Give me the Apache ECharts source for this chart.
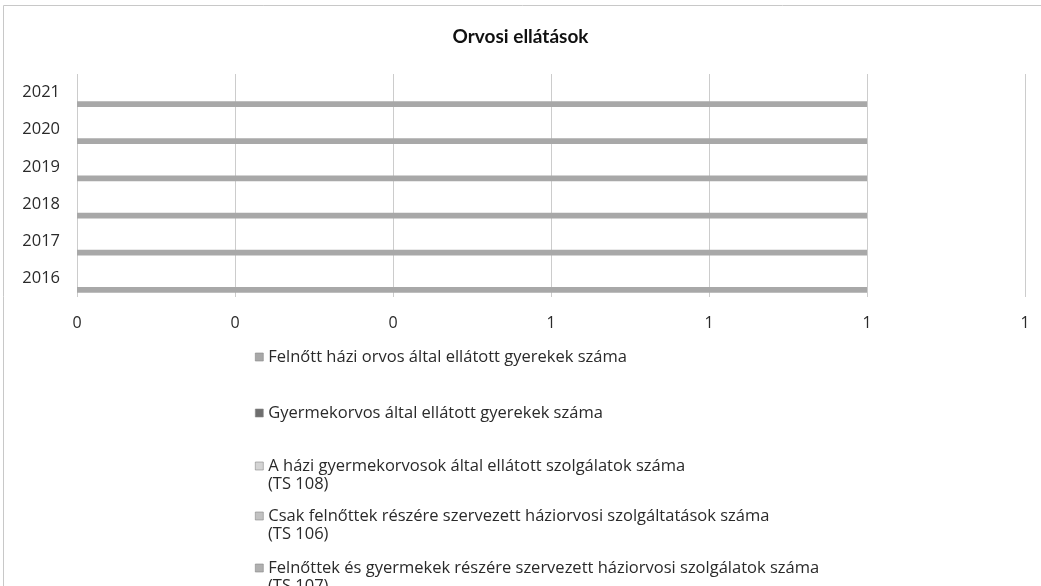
<!DOCTYPE html>
<html>
<head>
<meta charset="utf-8">
<title>Orvosi ellátások</title>
<script src="https://cdn.jsdelivr.net/npm/echarts@6/dist/echarts.min.js"></script>
<style>
  html, body { margin: 0; padding: 0; background: #fff; }
  #chart { width: 1041px; height: 586px; }
</style>
</head>
<body>
<div id="chart"></div>
<script>
// adatok
var years = ['2016', '2017', '2018', '2019', '2020', '2021']
var seriesNames = [
  'Felnőtt házi orvos által ellátott gyerekek száma',
  'Gyermekorvos által ellátott gyerekek száma',
  'A házi gyermekorvosok által ellátott szolgálatok száma\n(TS 108)',
  'Csak felnőttek részére szervezett háziorvosi szolgáltatások száma\n(TS 106)',
  'Felnőttek és gyermekek részére szervezett háziorvosi szolgálatok száma\n(TS 107)'
]
var felnottOrvosGyerekek = [1, 1, 1, 1, 1, 1]
var gyermekorvosGyerekek = [0, 0, 0, 0, 0, 0]
var ts108 = [0, 0, 0, 0, 0, 0]
var ts106 = [0, 0, 0, 0, 0, 0]
var ts107 = [0, 0, 0, 0, 0, 0]
var seriesValues = [felnottOrvosGyerekek, gyermekorvosGyerekek, ts108, ts106, ts107]
var xTicks = [0, 0.2, 0.4, 0.6, 0.8, 1.0, 1.2]

var colors = ['#a8a8a8', '#6e6e6e', '#d4d4d4', '#c2c2c2', '#b0b0b0']
var font = '"Open Sans", "Noto Sans", sans-serif'
var legendFontSize = 16.5

var chart = echarts.init(document.getElementById('chart'))

// legend: egy blokk soronként (Excel-szerűen az ikon az első sorhoz igazodik)
var legendLeft = 255
var legendRowY = [357, 413, 466, 516, 568]
var legends = []
var extraLines = []
seriesNames.forEach(function(name, i) {
  legends.push({
    orient: 'vertical',
    left: legendLeft,
    top: legendRowY[i] - 9,
    padding: 0,
    itemWidth: 8,
    itemHeight: 8,
    itemGap: 0,
    icon: 'rect',
    selectedMode: false,
    data: [name],
    formatter: function(n) { return n.split('\n')[0] },
    itemStyle: { borderColor: '#888', borderWidth: 0.6 },
    textStyle: { fontFamily: font, fontSize: legendFontSize, color: '#2a2a2a', lineHeight: 18 }
  })
  var parts = name.split('\n')
  if (parts.length > 1) {
    extraLines.push({
      type: 'text',
      left: legendLeft + 13,
      top: legendRowY[i] + 18 - 9,
      silent: true,
      style: { text: parts[1], font: legendFontSize + 'px ' + font, fill: '#2a2a2a', lineHeight: 18 }
    })
  }
})

// Excel az első sorozatot a sáv aljára teszi, ezért fordított sorrend
var series = []
for (var i = seriesNames.length - 1; i >= 0; i--) {
  series.push({
    name: seriesNames[i],
    type: 'bar',
    data: seriesValues[i],
    barGap: '0%',
    barCategoryGap: '23%',
    itemStyle: { color: colors[i] }
  })
}

chart.setOption({
  animation: false,
  color: colors,
  title: {
    text: 'Orvosi ellátások',
    left: 'center',
    top: 22,
    textStyle: { fontFamily: 'Lato, sans-serif', fontSize: 19, fontWeight: 'bold', color: '#111' }
  },
  graphic: [{
    type: 'rect',
    shape: { x: 3.5, y: 5.5, width: 1100, height: 700 },
    style: { fill: 'none', stroke: '#c8c8c8', lineWidth: 1 },
    silent: true
  }].concat(extraLines),
  legend: legends,
  grid: { left: 77, right: 16, top: 74, bottom: 289, containLabel: false, outerBoundsMode: 'none' },
  xAxis: {
    type: 'value',
    min: xTicks[0],
    max: xTicks[xTicks.length - 1],
    interval: 0.2,
    axisLine: { show: false },
    axisTick: { show: false },
    axisLabel: {
      margin: 18,
      fontFamily: font,
      fontSize: 16,
      color: '#2a2a2a',
      formatter: function(v) { return Math.round(v).toString() }
    },
    splitLine: { show: true, lineStyle: { color: '#cccccc', width: 1 } }
  },
  yAxis: {
    type: 'category',
    data: years,
    axisLine: { show: false },
    axisTick: { show: false },
    axisLabel: { margin: 17, fontFamily: font, fontSize: 16.5, color: '#2a2a2a' },
    splitLine: { show: false }
  },
  series: series
})
</script>
</body>
</html>
